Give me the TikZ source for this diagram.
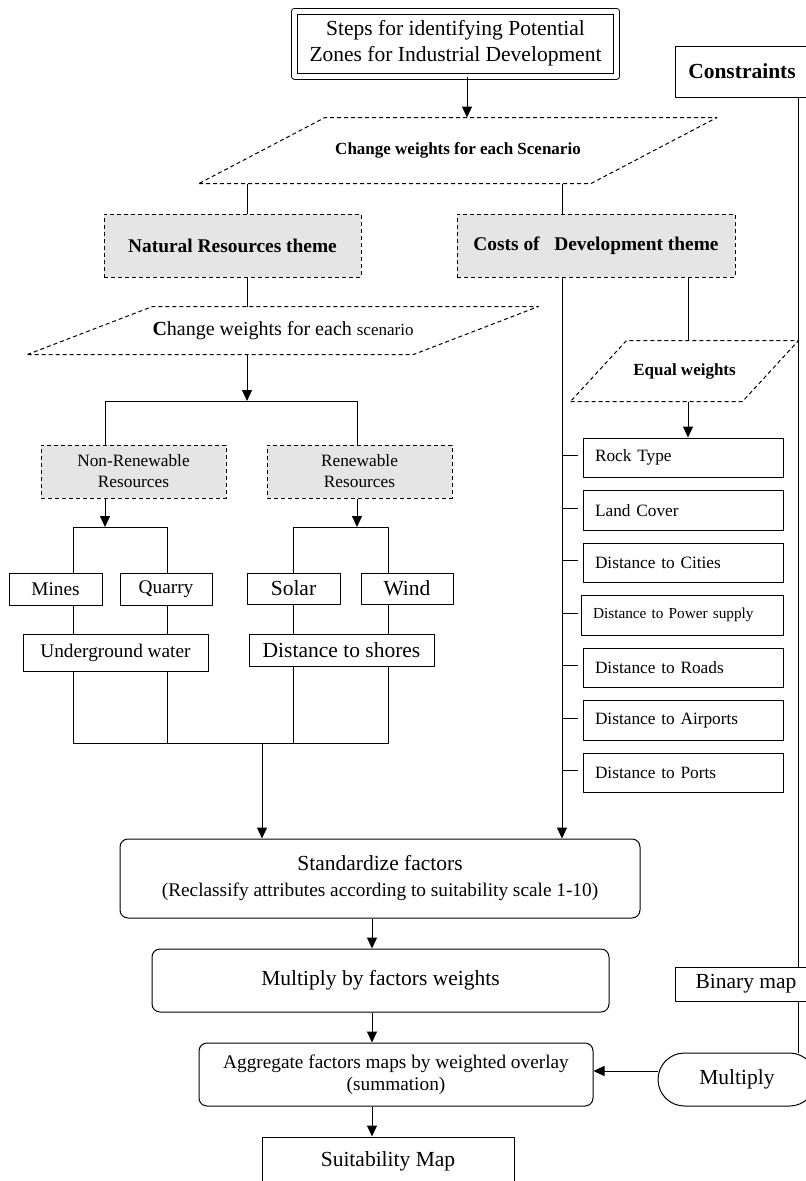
\documentclass[tikz,border=0pt]{standalone}
\usepackage{fontspec}
\setmainfont{Liberation Serif}
\usetikzlibrary{arrows.meta}
\newcommand{\fsA}{\fontsize{21.5}{26}\selectfont}
\newcommand{\fsB}{\fontsize{19.3}{22}\selectfont}
\newcommand{\fsC}{\fontsize{17.3}{21}\selectfont}
\newcommand{\fsD}{\fontsize{15.3}{18}\selectfont}
\begin{document}
\begin{tikzpicture}[x=1pt, y=-1pt, line width=1pt, line join=round, >={Triangle[length=11pt,width=10pt]},
	box/.style={draw, inner sep=0pt, align=center},
	dashline/.style={dash pattern=on 4pt off 3pt},
	greybox/.style={box, fill=black!10, dashline},
	rbox/.style={box, rounded corners=8pt},
	factor/.style={draw, minimum height=39.5pt, minimum width=200pt, text width=176pt, inner xsep=12pt, inner ysep=0pt, align=left, font=\fsC}]
	\useasboundingbox (0,0) rectangle (806,1181);
	% top
	\node[box, double, double distance=5pt, minimum width=322pt, minimum height=65pt, font=\fsA] (title) at (455.5,43.5) {Steps for identifying Potential\\Zones for Industrial Development};
	\node[box, minimum width=134pt, minimum height=51pt, font=\bfseries\fsA] (con) at (742,71.5) {Constraints};
	\node[inner sep=0pt, minimum width=391pt, minimum height=65pt, font=\bfseries\fontsize{17}{20}\selectfont] (cw1) at (458,150.5) {Change weights for each Scenario\hspace{12pt}};
	\draw[dashline] ([xshift=-63pt]cw1.south west) -- ([xshift=-63pt]cw1.south east) -- ([xshift=63pt]cw1.north east) -- ([xshift=63pt]cw1.north west) -- cycle;
	\draw[->] ([xshift=11.5pt]title.south) -- ([xshift=11.5pt]title.south |- cw1.north);
	% themes
	\node[greybox, minimum width=257pt, minimum height=63pt, font=\bfseries\fontsize{19.4}{22}\selectfont] (nrt) at (232.5,245.5) {Natural Resources theme};
	\node[greybox, minimum width=278pt, minimum height=63pt, font=\bfseries\fontsize{19.4}{22}\selectfont] (cdt) at (596,245.5) {Costs of~~~Development theme};
	\draw ([xshift=14.5pt]nrt.north) -- ([xshift=14.5pt]nrt.north |- cw1.south);
	\draw ([xshift=-34pt]cdt.north) -- ([xshift=-34pt]cdt.north |- cw1.south);
	\node[inner sep=0pt, minimum width=385pt, minimum height=47pt, font=\fontsize{20}{22}\selectfont] (cw2) at (283,330.5) {{\bfseries C}hange weights for each {\fontsize{17}{20}\selectfont scenario}};
	\draw[dashline] ([xshift=-62.5pt]cw2.south west) -- ([xshift=-62.5pt]cw2.south east) -- ([xshift=62.5pt]cw2.north east) -- ([xshift=62.5pt]cw2.north west) -- cycle;
	\draw ([xshift=14.5pt]nrt.south) -- ([xshift=14.5pt]nrt.south |- cw2.north);
	\node[inner sep=0pt, minimum width=171pt, minimum height=60pt, font=\bfseries\fontsize{17}{20}\selectfont] (ew) at (684.5,371) {Equal weights};
	\draw[dashline] ([xshift=-28pt]ew.south west) -- ([xshift=-28pt]ew.south east) -- ([xshift=28pt]ew.north east) -- ([xshift=28pt]ew.north west) -- cycle;
	\draw ([xshift=92pt]cdt.south) -- ([xshift=92pt]cdt.south |- ew.north);
	% natural resources tree
	\node[greybox, minimum width=185pt, minimum height=53pt, font=\fsC] (nrr) at (133.5,471.5) {Non-Renewable\\Resources};
	\node[greybox, minimum width=185pt, minimum height=53pt, font=\fsC] (rr) at (359.5,471.5) {Renewable\\Resources};
	\coordinate (b1m) at (247,401);
	\coordinate (b1l) at (105,401);
	\coordinate (b1r) at (357,401);
	\draw[->] (cw2.south -| b1m) -- (b1m);
	\draw (nrr.north -| b1l) -- (b1l) -- (b1r) -- (rr.north -| b1r);
	\node[box, minimum width=93pt, minimum height=32pt, font=\fsB] (mines) at (55.5,589) {Mines};
	\node[box, minimum width=92pt, minimum height=32pt, font=\fsB] (quarry) at (166,589) {Quarry};
	\node[box, minimum width=93pt, minimum height=31pt, font=\fsA] (solar) at (293.5,588.5) {Solar};
	\node[box, minimum width=92pt, minimum height=31pt, font=\fsA] (wind) at (407,588.5) {Wind};
	\node[box, minimum width=185pt, minimum height=37pt, font=\fsB] (uw) at (115.5,652.5) {Underground water};
	\node[box, minimum width=185pt, minimum height=32pt, font=\fsA] (ds) at (341.5,650) {Distance to shores};
	\coordinate (b2m) at (105,527);
	\coordinate (b2l) at (73,527);
	\coordinate (b2r) at (167,527);
	\coordinate (b3m) at (357,527);
	\coordinate (b3l) at (293,527);
	\coordinate (b3r) at (388,527);
	\draw[->] (nrr.south -| b2m) -- (b2m);
	\draw[->] (rr.south -| b3m) -- (b3m);
	\draw (mines.north -| b2l) -- (b2l) -- (b2r) -- (quarry.north -| b2r);
	\draw (solar.north -| b3l) -- (b3l) -- (b3r) -- (wind.north -| b3r);
	\draw (mines.south -| b2l) -- (uw.north -| b2l);
	\draw (quarry.south -| b2r) -- (uw.north -| b2r);
	\draw (solar.south -| b3l) -- (ds.north -| b3l);
	\draw (wind.south -| b3r) -- (ds.north -| b3r);
	\coordinate (b4l) at (73,743);
	\coordinate (b4r) at (388,743);
	\coordinate (b4m) at (262,743);
	\draw (uw.south -| b4l) -- (b4l) -- (b4r) -- (ds.south -| b4r);
	\draw (uw.south -| b2r) -- (b2r |- b4l);
	\draw (ds.south -| b3l) -- (b3l |- b4l);
	% cost factors
	\node[factor] (f1) at (683,457.75) {Rock Type};
	\node[factor] (f2) at (683,510.25) {Land Cover};
	\node[factor] (f3) at (683,562.75) {Distance to Cities};
	\node[factor, minimum width=202pt, text width=178pt, font=\fsD] (f4) at (682,615.25) {Distance to Power supply};
	\node[factor] (f5) at (683,667.75) {Distance to Roads};
	\node[factor] (f6) at (683,720.25) {Distance to Airports};
	\node[factor] (f7) at (683,772.75) {Distance to Ports};
	\draw[->] ([xshift=3.5pt]ew.south) -- ([xshift=3.5pt]ew.south |- f1.north);
	\coordinate (cl) at (562,0);
	\coordinate (cs) at (578,0);
	\foreach \f in {f1,f2,f3,f4,f5,f6,f7}
		\draw ([yshift=2pt]cl |- \f.west) -- ([yshift=2pt]cs |- \f.west);
	% bottom chain
	\node[rbox, minimum width=520pt, minimum height=79pt, font=\fsA] (std) at (380,878.5) {Standardize factors\\{\fsB (Reclassify attributes according to suitability scale 1-10)}};
	\node[rbox, minimum width=457pt, minimum height=63pt, font=\fsA] (mfw) at (380.5,980.5) {Multiply by factors weights};
	\node[rbox, minimum width=394pt, minimum height=63pt, font=\fsB] (agg) at (396,1074.5) {Aggregate factors maps by weighted overlay\\(summation)};
	\node[box, minimum width=252pt, minimum height=48pt, font=\fsA] (sm) at (388,1161) {Suitability Map};
	\node[box, minimum width=142pt, minimum height=34pt, font=\fsA] (bin) at (746,984) {Binary map};
	\node[box, rounded corners=26.5pt, minimum width=158pt, minimum height=53pt, font=\fsA] (mult) at (737,1079.5) {Multiply};
	\draw[->] (b4m) -- (std.north -| b4m);
	\draw[->] ([xshift=-34pt]cdt.south) -- ([xshift=-34pt]cdt.south |- std.north);
	\draw[->] ([xshift=-8pt]std.south) -- ([xshift=-8pt]std.south |- mfw.north);
	\draw[->] ([xshift=-8.5pt]mfw.south) -- ([xshift=-8.5pt]mfw.south |- agg.north);
	\draw[->] ([xshift=-24pt]agg.south) -- ([xshift=-24pt]agg.south |- sm.north);
	\coordinate (cr) at (798,0);
	\draw (con.south -| cr) -- (bin.north -| cr);
	\draw (bin.south -| cr) -- (mult.north -| cr);
	\draw[->] ([yshift=3.5pt]mult.west |- agg.east) -- ([yshift=3.5pt]agg.east);
\end{tikzpicture}
\end{document}
